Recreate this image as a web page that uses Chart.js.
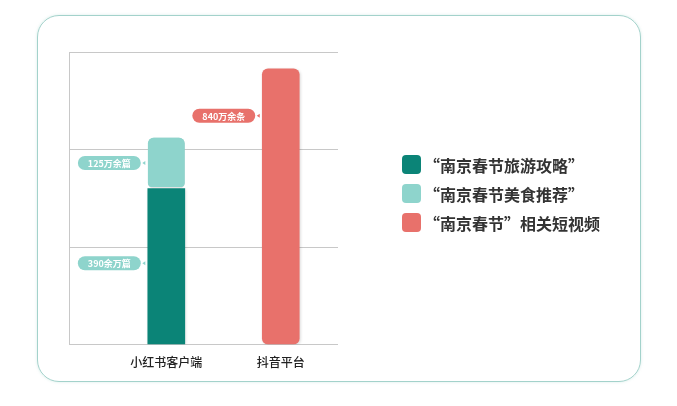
<!DOCTYPE html>
<html>
<head>
<meta charset="utf-8">
<script src="https://cdn.jsdelivr.net/npm/chart.js@4"></script>
<style>
  html, body { margin: 0; padding: 0; background: #fff; }
  #wrap { position: relative; width: 677px; height: 406px; font-family: "Noto Sans CJK SC", sans-serif; }
  #card { position: absolute; left: 37px; top: 15px; width: 604px; height: 367px; box-sizing: border-box;
          border: 1px solid #a3d2cb; border-radius: 22px; box-shadow: 0 0 3px rgba(140, 200, 190, 0.35); }
  #chartBox { position: absolute; left: 0; top: 0; width: 677px; height: 406px; }
  #legend { position: absolute; left: 402px; top: 150px; margin: 0; padding: 0; list-style: none; }
  #legend li { display: flex; align-items: center; height: 29px; font-size: 16px; font-weight: bold; color: #333; white-space: nowrap; }
  #legend span.box { width: 19px; height: 19px; border-radius: 4px; margin-right: 3px; }
</style>
</head>
<body>
<div id="wrap">
  <div id="card"></div>
  <div id="chartBox"><canvas id="platformChart"></canvas></div>
  <ul id="legend"></ul>
</div>
<script>
// kategori sumbu x
const categories = ["小红书客户端", "抖音平台"];
// nama seri (legenda)
const seriesNames = ["“南京春节旅游攻略”", "“南京春节美食推荐”", "“南京春节”相关短视频"];
// tinggi batang, skala 0-900 (label sumbu tersembunyi)
const guideValues = [480, null];
const foodValues = [157, null];
const videoValues = [null, 848];
// teks label tiap seri
const seriesLabels = ["390余万篇", "125万余篇", "840万余条"];
// garis grid sumbu y
const yTicks = [0, 300, 600, 900];

Chart.defaults.font.family = "'Noto Sans CJK SC', sans-serif";

const toPoints = (values) => values
  .map((v, i) => ({ x: i + 1, y: v }))
  .filter(p => p.y !== null);

// bayangan tipis di batang
const barShadow = {
  id: "barShadow",
  beforeDatasetsDraw(chart) {
    const ctx = chart.ctx;
    ctx.save();
    ctx.shadowColor = "rgba(0,0,0,0.15)";
    ctx.shadowBlur = 3;
    ctx.shadowOffsetX = 1;
    ctx.shadowOffsetY = 1;
  },
  afterDatasetsDraw(chart) {
    chart.ctx.restore();
  }
};

// label berbentuk pil di kiri batang
const pillLabels = {
  id: "pillLabels",
  afterDatasetsDraw(chart) {
    const ctx = chart.ctx;
    chart.data.datasets.forEach((ds, di) => {
      const meta = chart.getDatasetMeta(di);
      meta.data.forEach(bar => {
        const p = bar.getProps(["x", "y", "base", "width"], true);
        const cy = p.y + (p.base - p.y) * ds.labelAt;
        const right = p.x - p.width / 2 - 7;
        ctx.save();
        ctx.font = "bold 9px 'Noto Sans CJK SC', sans-serif";
        const w = ctx.measureText(ds.valueLabel).width + 20;
        const h = 14;
        const left = right - w;
        ctx.fillStyle = ds.pillColor;
        ctx.beginPath();
        ctx.roundRect(left, cy - h / 2, w, h, h / 2);
        ctx.fill();
        ctx.beginPath();
        ctx.moveTo(right + 1.5, cy);
        ctx.lineTo(right + 4.5, cy - 2);
        ctx.lineTo(right + 4.5, cy + 2);
        ctx.closePath();
        ctx.fill();
        ctx.fillStyle = "#fff";
        ctx.textAlign = "center";
        ctx.textBaseline = "middle";
        ctx.fillText(ds.valueLabel, left + w / 2, cy + 0.5);
        ctx.restore();
      });
    });
  }
};

const colors = ["#0b8477", "#8ed4cc", "#e8716b"];

const datasets = [
  {
    label: seriesNames[0], data: toPoints(guideValues), backgroundColor: colors[0],
    valueLabel: seriesLabels[0], pillColor: colors[1], labelAt: 0.48,
    borderRadius: 6, borderSkipped: false
  },
  {
    label: seriesNames[1], data: toPoints(foodValues), backgroundColor: colors[1],
    valueLabel: seriesLabels[1], pillColor: colors[1], labelAt: 0.5,
    borderRadius: 6, borderSkipped: false, borderColor: "#fff", borderWidth: { bottom: 2 }
  },
  {
    label: seriesNames[2], data: toPoints(videoValues), backgroundColor: colors[2],
    valueLabel: seriesLabels[2], pillColor: colors[2], labelAt: 0.17,
    borderRadius: 6, borderSkipped: false
  }
];

const chart = new Chart(document.getElementById("platformChart").getContext("2d"), {
  type: "bar",
  data: { datasets },
  plugins: [barShadow, pillLabels],
  options: {
    responsive: true,
    maintainAspectRatio: false,
    animation: false,
    barThickness: 37,
    layout: { padding: { left: 69, top: 52, right: 339, bottom: 25 } },
    plugins: { legend: { display: false }, tooltip: { enabled: false } },
    scales: {
      x: {
        type: "linear",
        min: 0.15,
        max: 2.5,
        offset: false,
        stacked: true,
        afterBuildTicks: (scale) => { scale.ticks = categories.map((c, i) => ({ value: i + 1 })); },
        grid: { display: false, drawTicks: false },
        border: { display: false },
        ticks: {
          callback: (v) => categories[v - 1],
          color: "#222",
          font: { size: 12, weight: "500" },
          padding: 11,
          autoSkip: false,
          maxRotation: 0
        }
      },
      y: {
        min: 0,
        max: 900,
        stacked: true,
        afterBuildTicks: (scale) => { scale.ticks = yTicks.map(v => ({ value: v })); },
        grid: { color: "#c8c8c8", drawTicks: false },
        border: { color: "#c8c8c8" },
        ticks: { display: false }
      }
    }
  }
});

// legenda HTML
const legend = document.getElementById("legend");
chart.data.datasets.forEach(ds => {
  const li = document.createElement("li");
  const box = document.createElement("span");
  box.className = "box";
  box.style.background = ds.backgroundColor;
  li.appendChild(box);
  li.appendChild(document.createTextNode(ds.label));
  legend.appendChild(li);
});
</script>
</body>
</html>
